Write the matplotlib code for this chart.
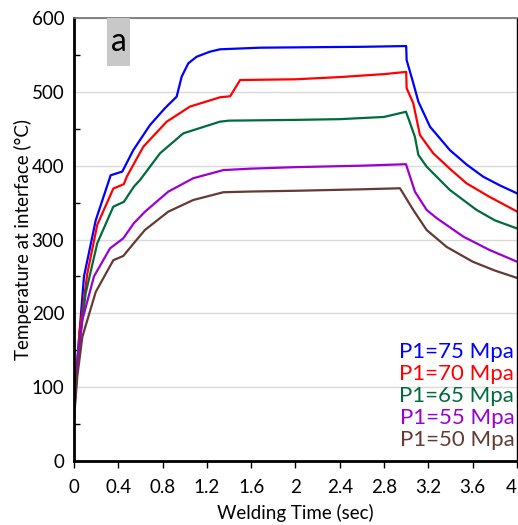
import matplotlib
matplotlib.use("Agg")
import matplotlib.pyplot as plt
from matplotlib.patches import Rectangle
from matplotlib.ticker import MultipleLocator

plt.rcParams['font.family'] = ['Lato', 'DejaVu Sans']

# welding time (sec) / interface temperature (C)
t75 = [0, 0.03, 0.09, 0.196, 0.331, 0.436, 0.535, 0.686, 0.822, 0.927, 0.972, 1.032, 1.108, 1.228, 1.318, 1.68, 2.2, 2.6, 3.0,
       3.004, 3.06, 3.11, 3.215, 3.395, 3.55, 3.696, 3.85, 4.0]
T75 = [72, 137, 250, 326, 387, 392, 421, 455, 478, 493.5, 520.5, 538.6, 547.6, 554.4, 557.6, 559.8, 560.5, 561, 562,
       543, 514, 486.7, 452.8, 421, 401, 385, 373, 362.6]

t70 = [0, 0.05, 0.12, 0.21, 0.355, 0.45, 0.476, 0.626, 0.837, 1.047, 1.318, 1.41, 1.5, 2.0, 2.4, 2.8, 3.0,
       3.004, 3.064, 3.124, 3.244, 3.4, 3.546, 3.75, 4.0]
T70 = [72, 175, 254, 320, 369, 375, 385, 425.7, 459.6, 480, 492.6, 494, 516, 517, 520, 524, 527,
       505, 484.5, 441.6, 416.8, 395, 376, 358, 338]

t65 = [0, 0.04, 0.105, 0.21, 0.355, 0.45, 0.54, 0.596, 0.777, 0.987, 1.318, 1.4, 2.0, 2.4, 2.8, 2.998,
       3.02, 3.079, 3.11, 3.185, 3.395, 3.636, 3.8, 4.0]
T65 = [68, 150, 227, 295, 344.5, 351, 371.5, 380.6, 416.8, 443.8, 459.6, 461, 462, 463, 466, 473,
       464, 439, 414.5, 398.6, 367, 340, 326, 315]

t55 = [0, 0.03, 0.075, 0.18, 0.325, 0.445, 0.54, 0.641, 0.851, 1.077, 1.348, 1.6, 2.0, 2.6, 2.998,
       3.079, 3.185, 3.275, 3.515, 3.75, 4.0]
T55 = [60, 130, 191, 250, 288, 301.6, 322, 337.7, 364.8, 383, 394, 396, 398, 400, 402,
       364.8, 340, 329, 304, 286, 270]

t50 = [0, 0.03, 0.075, 0.196, 0.355, 0.445, 0.54, 0.641, 0.851, 1.077, 1.348, 1.6, 2.0, 2.6, 2.944,
       3.064, 3.184, 3.365, 3.6, 3.8, 4.0]
T50 = [57, 115, 168, 229, 272, 277.7, 295, 313, 337.7, 353.5, 364, 365, 366, 368, 369.4,
       340, 313, 290, 270, 258, 248]

labels = ["P1=75 Mpa", "P1=70 Mpa", "P1=65 Mpa", "P1=55 Mpa", "P1=50 Mpa"]
colors = ["#0000FF", "#FF0000", "#006B3C", "#9B00D3", "#633A34"]
xticks = [0, 0.4, 0.8, 1.2, 1.6, 2, 2.4, 2.8, 3.2, 3.6, 4]
xticklabels = ["0", "0.4", "0.8", "1.2", "1.6", "2", "2.4", "2.8", "3.2", "3.6", "4"]

fig = plt.figure(figsize=(5.18, 5.25), dpi=100)
ax = fig.add_axes([0.1429, 0.1219, 0.855, 0.8438])

for t, T, c in zip([t75, t70, t65, t55, t50], [T75, T70, T65, T55, T50], colors):
    ax.plot(t, T, color=c, lw=1.6)

ax.set_xlim(0, 4)
ax.set_ylim(0, 600)
ax.set_xticks(xticks)
ax.set_xticklabels(xticklabels)
ax.get_xticklabels()[-1].set_horizontalalignment('right')
ax.yaxis.set_major_locator(MultipleLocator(100))
ax.yaxis.set_minor_locator(MultipleLocator(50))
ax.grid(axis='y', which='major', color='#d9d9d9', lw=1)
ax.set_axisbelow(True)
ax.tick_params(axis='x', direction='out', length=5, width=1, labelsize=13.5, pad=8)
ax.tick_params(axis='y', which='major', length=0, labelsize=13.5, pad=7)
ax.tick_params(axis='y', which='minor', direction='in', length=4, width=1)

for s in ['left', 'bottom']:
    ax.spines[s].set_linewidth(2)
ax.spines['right'].set_linewidth(1)
ax.spines['top'].set_color('#707070')
ax.spines['top'].set_linewidth(1.2)

ax.set_xlabel("Welding Time (sec)", fontsize=13.5, labelpad=6)
ax.set_ylabel("Temperature at interface (°C)", fontsize=13.5, labelpad=0)

# panel tag "a" in a grey box
ax.add_patch(Rectangle((0.0745, 0.8916), 0.052, 0.108, transform=ax.transAxes,
                       fc='#c8c8c8', ec='none', zorder=3, clip_on=False))
ax.text(0.1005, 0.945, "a", transform=ax.transAxes, fontsize=23, va='center', ha='center', zorder=4)

for i, (lab, c) in enumerate(zip(labels, colors)):
    ax.text(0.994, 0.246 - i * 0.0497, lab, transform=ax.transAxes, color=c,
            fontsize=16, ha='right', va='center')

fig.savefig("out.png", dpi=100)
